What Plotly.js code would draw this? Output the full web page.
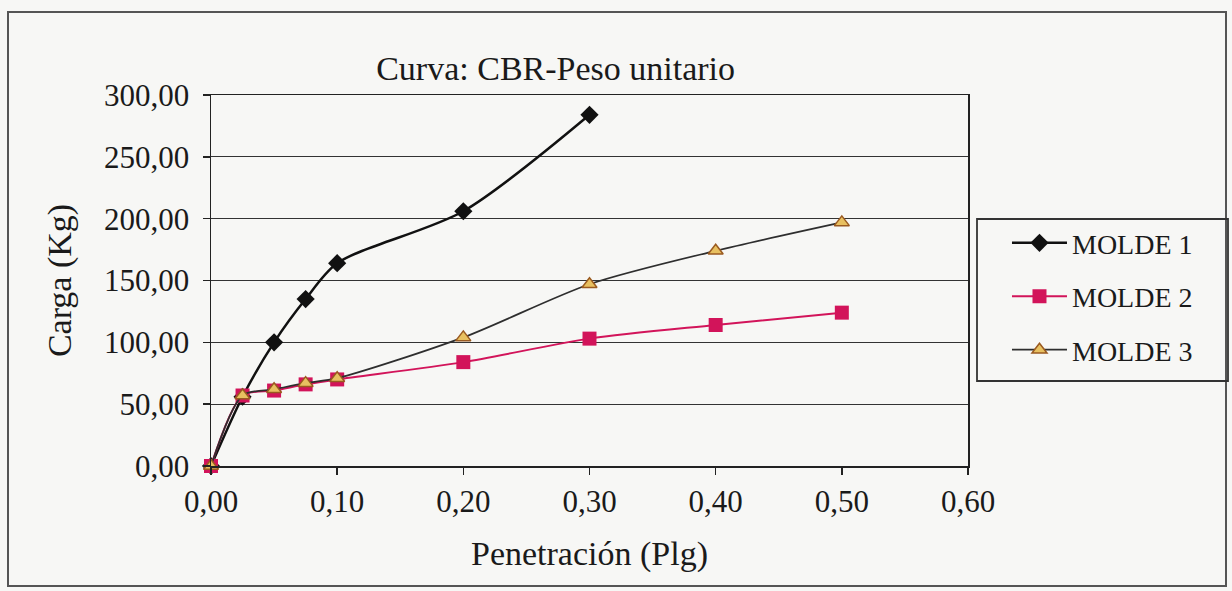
<!DOCTYPE html>
<html>
<head>
<meta charset="utf-8">
<script src="https://cdn.plot.ly/plotly-3.0.1.min.js"></script>
<style>
  html, body { margin: 0; padding: 0; background: #f7f7f5; }
  #chart { width: 1232px; height: 591px; }
</style>
</head>
<body>
<div id="chart"></div>
<script>
// Penetración (pulgadas) y carga (Kg) por molde
const penetracion = [0, 0.025, 0.05, 0.075, 0.1, 0.2, 0.3, 0.4, 0.5];
const molde1 = [0, 56, 100, 135, 164, 206, 284];
const molde2 = [0, 57, 61, 66, 70, 84, 103, 114, 124];
const molde3 = [0, 57, 62, 67, 71, 104, 147, 174, 197];
const nombres = ['MOLDE 1', 'MOLDE 2', 'MOLDE 3'];

const serif = "'Liberation Serif', 'DejaVu Serif', serif";

const traces = [
  {
    x: penetracion.slice(0, molde1.length), y: molde1, name: nombres[0],
    mode: 'lines+markers', legendgroup: 'g1',
    line: { color: '#111111', width: 2.5, shape: 'spline', smoothing: 0.8 },
    marker: { symbol: 'diamond', size: 14, color: '#111111' },
    cliponaxis: false
  },
  {
    x: penetracion, y: molde2, name: nombres[1],
    mode: 'lines+markers', legendgroup: 'g2',
    line: { color: '#d2145a', width: 2, shape: 'spline', smoothing: 0.8 },
    marker: { symbol: 'square', size: 14, color: '#d2145a' },
    cliponaxis: false
  },
  {
    x: penetracion, y: molde3, name: nombres[2],
    mode: 'lines+markers', legendgroup: 'g3',
    line: { color: '#2e2e2e', width: 1.7, shape: 'spline', smoothing: 0.8 },
    marker: { symbol: 'triangle-up', size: 13, color: '#e8c060',
              line: { color: '#9a5a20', width: 1.5 } },
    cliponaxis: false
  }
];

const layout = {
  width: 1232, height: 591,
  separators: ',.',
  paper_bgcolor: '#f7f7f5',
  plot_bgcolor: '#f7f7f5',
  margin: { l: 211, r: 264, t: 95, b: 125 },
  font: { family: serif, color: '#1a1a1a', size: 31 },
  title: {
    text: 'Curva: CBR-Peso unitario',
    font: { family: serif, size: 34, color: '#1a1a1a' },
    xref: 'container', yref: 'container',
    x: 0.451, xanchor: 'center', y: 0.885, yanchor: 'middle'
  },
  xaxis: {
    range: [0, 0.6], dtick: 0.1, tick0: 0, tickformat: '.2f',
    showgrid: false, zeroline: false,
    showline: true, linecolor: '#222', linewidth: 1.5, mirror: true,
    ticks: 'outside', ticklen: 7, tickcolor: '#222', tickwidth: 1.5,
    tickfont: { family: serif, size: 31, color: '#1a1a1a' },
    title: { text: 'Penetración (Plg)', standoff: 23,
             font: { family: serif, size: 34, color: '#1a1a1a' } }
  },
  yaxis: {
    range: [0, 300], dtick: 50, tick0: 0, tickformat: '.2f',
    showgrid: true, gridcolor: '#333', gridwidth: 1.3, zeroline: false,
    showline: true, linecolor: '#222', linewidth: 1.5, mirror: true,
    ticks: 'outside', ticklen: 7, tickcolor: '#222', tickwidth: 1.5,
    ticklabelstandoff: 7,
    tickfont: { family: serif, size: 31, color: '#1a1a1a' },
    title: { text: 'Carga (Kg)', standoff: 22,
             font: { family: serif, size: 34, color: '#1a1a1a' } }
  },
  showlegend: true,
  legend: {
    x: 1.0515, xanchor: 'left', y: 0.668, yanchor: 'top',
    bgcolor: 'rgba(0,0,0,0)', borderwidth: 0,
    font: { family: serif, size: 28, color: '#1a1a1a' },
    traceorder: 'grouped', tracegroupgap: 14,
    itemwidth: 55
  },
  shapes: [
    // marco del gráfico
    { type: 'rect', xref: 'paper', yref: 'paper',
      x0: (8 - 211) / 757, x1: (1226 - 211) / 757,
      y0: (466 - 586) / 371, y1: (466 - 12) / 371,
      line: { color: '#555', width: 2 }, fillcolor: 'rgba(0,0,0,0)', layer: 'below' },
    // recuadro de la leyenda
    { type: 'rect', xref: 'paper', yref: 'paper',
      x0: (977 - 211) / 757, x1: (1228 - 211) / 757,
      y0: (466 - 381) / 371, y1: (466 - 219) / 371,
      line: { color: '#333', width: 1.8 }, fillcolor: 'rgba(0,0,0,0)' }
  ]
};

Plotly.newPlot('chart', traces, layout, { displayModeBar: false, staticPlot: true });
</script>
</body>
</html>
